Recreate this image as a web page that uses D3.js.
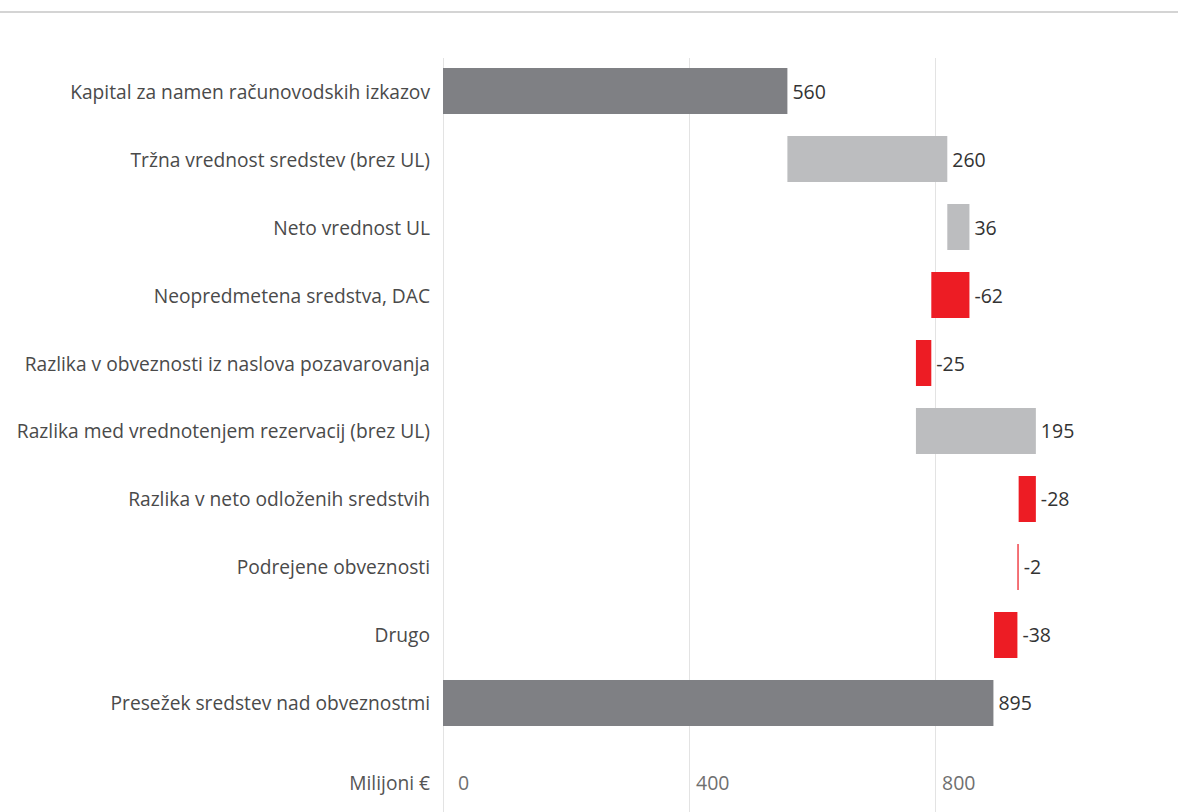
<!DOCTYPE html>
<html>
<head>
<meta charset="utf-8">
<script src="https://cdn.jsdelivr.net/npm/d3@7"></script>
<style>
  html, body { margin: 0; padding: 0; background: #ffffff; }
  svg text { font-family: "Open Sans", "Noto Sans", sans-serif; }
</style>
</head>
<body>
<svg id="chart" width="1178" height="812"></svg>
<script>
// Bridge from accounting capital to the excess of assets over liabilities (million EUR)
const categories = [
  "Kapital za namen računovodskih izkazov",
  "Tržna vrednost sredstev (brez UL)",
  "Neto vrednost UL",
  "Neopredmetena sredstva, DAC",
  "Razlika v obveznosti iz naslova pozavarovanja",
  "Razlika med vrednotenjem rezervacij (brez UL)",
  "Razlika v neto odloženih sredstvih",
  "Podrejene obveznosti",
  "Drugo",
  "Presežek sredstev nad obveznostmi"
];
const values = [560, 260, 36, -62, -25, 195, -28, -2, -38, 895];
const kinds = ["total", "step", "step", "step", "step", "step", "step", "step", "step", "total"];
const tickValues = [0, 400, 800];
const axisTitle = "Milijoni €";

const W = 1178, H = 812;
const svg = d3.select("#chart");

const colors = { total: "#7f8084", up: "#bcbdbf", down: "#ed1c24" };

// Running totals for the waterfall segments
let running = 0;
const rows = categories.map((c, i) => {
  const v = values[i];
  let x0, x1, type;
  if (kinds[i] === "total") {
    x0 = 0; x1 = v; running = v; type = "total";
  } else {
    x0 = running; x1 = running + v; running = x1; type = v >= 0 ? "up" : "down";
  }
  return { cat: c, value: v, lo: Math.min(x0, x1), hi: Math.max(x0, x1), type };
});

const x = d3.scaleLinear().domain([0, 1000]).range([443, 1058]);
const y = d3.scaleBand().domain(categories).range([57, 737])
  .paddingInner(0.3235).paddingOuter(0.1618);

// Top rule
svg.append("line")
  .attr("x1", 0).attr("x2", W).attr("y1", 12).attr("y2", 12)
  .attr("stroke", "#d4d4d4").attr("stroke-width", 2);

// Vertical gridlines
svg.append("g").selectAll("line").data(tickValues).join("line")
  .attr("x1", d => x(d) + 0.5).attr("x2", d => x(d) + 0.5)
  .attr("y1", 58).attr("y2", H)
  .attr("stroke", "#e3e3e3").attr("stroke-width", 1);

// Waterfall bars
svg.append("g").selectAll("rect").data(rows).join("rect")
  .attr("x", d => x(d.lo))
  .attr("width", d => Math.max(1, x(d.hi) - x(d.lo)))
  .attr("y", d => y(d.cat))
  .attr("height", y.bandwidth())
  .attr("fill", d => colors[d.type]);

// Category labels
svg.append("g").selectAll("text").data(rows).join("text")
  .attr("x", 430)
  .attr("y", d => y(d.cat) + y.bandwidth() / 2)
  .attr("text-anchor", "end")
  .attr("dominant-baseline", "central")
  .attr("font-size", 19.2)
  .attr("fill", "#4a4a4a")
  .text(d => d.cat);

// Value labels at the right end of each bar
svg.append("g").selectAll("text").data(rows).join("text")
  .attr("x", d => x(d.hi) + 5)
  .attr("y", d => y(d.cat) + y.bandwidth() / 2)
  .attr("dominant-baseline", "central")
  .attr("font-size", 19.5)
  .attr("fill", "#333333")
  .text(d => d.value);

// Axis title and tick labels
const axisY = 782;
svg.append("text")
  .attr("x", 430).attr("y", axisY)
  .attr("text-anchor", "end").attr("dominant-baseline", "central")
  .attr("font-size", 19.2).attr("fill", "#555555")
  .text(axisTitle);

svg.append("g").selectAll("text").data(tickValues).join("text")
  .attr("x", d => x(d) + (d === 0 ? 15 : 7))
  .attr("y", axisY)
  .attr("dominant-baseline", "central")
  .attr("font-size", 19.5).attr("fill", "#6f6f6f")
  .text(d => d);
</script>
</body>
</html>
